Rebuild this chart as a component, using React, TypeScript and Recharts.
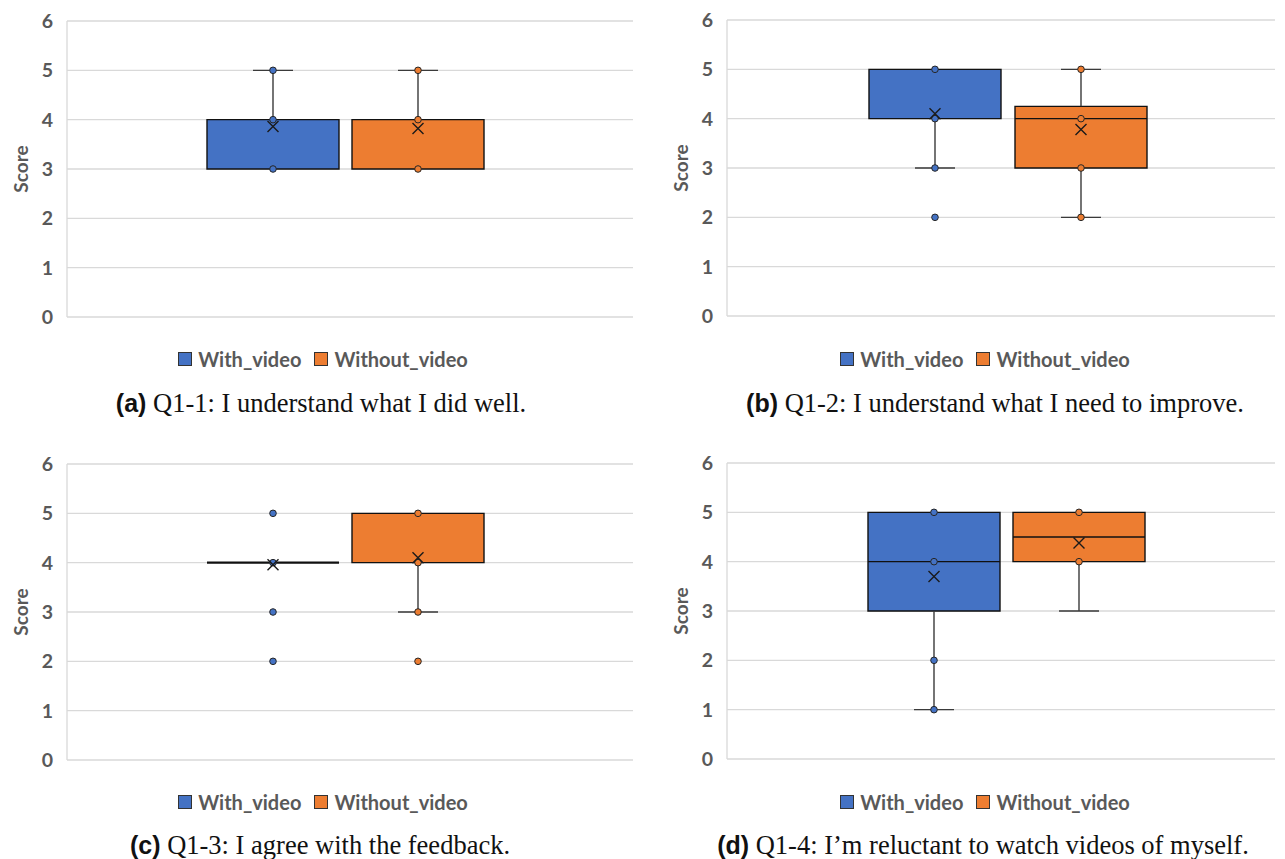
import React from "react";
import { ComposedChart, XAxis, YAxis, CartesianGrid, Scatter, ReferenceArea, ReferenceLine } from "recharts";

const SERIES = ["With_video", "Without_video"];
const COLORS = ["#4472C4", "#ED7D31"];
const Y_TICKS = [0, 1, 2, 3, 4, 5, 6];

type BoxStats = { low: number; q1: number; median: number; q3: number; high: number; mean: number; points: number[] };

// one entry per series: [With_video, Without_video]
const q1_1: BoxStats[] = [
  { low: 3, q1: 3, median: 4, q3: 4, high: 5, mean: 3.86, points: [3, 4, 5] },
  { low: 3, q1: 3, median: 4, q3: 4, high: 5, mean: 3.82, points: [3, 4, 5] },
];
const q1_2: BoxStats[] = [
  { low: 3, q1: 4, median: 4, q3: 5, high: 5, mean: 4.1, points: [2, 3, 4, 5] },
  { low: 2, q1: 3, median: 4, q3: 4.25, high: 5, mean: 3.78, points: [2, 3, 4, 5] },
];
const q1_3: BoxStats[] = [
  { low: 4, q1: 4, median: 4, q3: 4, high: 4, mean: 3.96, points: [2, 3, 4, 5] },
  { low: 3, q1: 4, median: 5, q3: 5, high: 5, mean: 4.1, points: [2, 3, 4, 5] },
];
const q1_4: BoxStats[] = [
  { low: 1, q1: 3, median: 4, q3: 5, high: 5, mean: 3.7, points: [1, 2, 4, 5] },
  { low: 3, q1: 4, median: 4.5, q3: 5, high: 5, mean: 4.38, points: [4, 5] },
];

const CAPTION_TAGS = ["(a)", "(b)", "(c)", "(d)"];
const CAPTION_TEXTS = [
  "Q1-1: I understand what I did well.",
  "Q1-2: I understand what I need to improve.",
  "Q1-3: I agree with the feedback.",
  "Q1-4: I\u2019m reluctant to watch videos of myself.",
];

const TICK_FONT = "Lato, 'Open Sans', sans-serif";
const GREY_TEXT = "#595959";
const GRID = "#d9d9d9";

type Layout = {
  left: number;
  top: number;
  width: number;
  axisW: number;
  plotTop: number;
  plotBottom: number;
  plotRight: number;
  c0: number;
  c1: number;
  labelX: number;
  legendX: number;
  legendY: number;
  captionX: number;
  captionY: number;
};

const CHART_H = 340;

const MeanMark = (props: any) => {
  const { cx, cy } = props;
  const s = 5.5;
  return (
    <path
      d={`M${cx - s},${cy - s}L${cx + s},${cy + s}M${cx - s},${cy + s}L${cx + s},${cy - s}`}
      stroke="#1a1a1a"
      strokeWidth={1.4}
      fill="none"
    />
  );
};

const dotShape = (color: string) => (props: any) => (
  <circle cx={props.cx} cy={props.cy} r={3.3} fill={color} stroke="#262626" strokeWidth={1} />
);

function Panel({ stats, layout, idx }: { stats: BoxStats[]; layout: Layout; idx: number }) {
  const plotLeft = layout.axisW;
  const unit = layout.c1 - layout.c0;
  const domain: [number, number] = [(plotLeft - layout.c0) / unit, 1 + (layout.plotRight - layout.c1) / unit];
  const half = 66 / unit;
  const cap = 20 / unit;
  const whisker = { stroke: "#3a3a3a", strokeWidth: 1.4 };

  return (
    <div style={{ position: "absolute", left: layout.left, top: layout.top, width: layout.width, height: 440 }}>
      <ComposedChart
        width={layout.width}
        height={CHART_H}
        margin={{ top: layout.plotTop, right: layout.width - layout.plotRight, bottom: CHART_H - layout.plotBottom, left: 0 }}
      >
        <CartesianGrid vertical={false} stroke={GRID} strokeWidth={1.3} />
        <XAxis type="number" dataKey="x" domain={domain} allowDataOverflow hide />
        <YAxis
          type="number"
          dataKey="y"
          domain={[0, 6]}
          ticks={Y_TICKS}
          width={layout.axisW}
          tickLine={false}
          tickMargin={8}
          axisLine={{ stroke: GRID, strokeWidth: 1.3 }}
          tick={{ fill: GREY_TEXT, fontSize: 19.5, fontWeight: 700, fontFamily: TICK_FONT }}
          label={{
            content: (p: any) => {
              const vb = p.viewBox || { y: layout.plotTop, height: layout.plotBottom - layout.plotTop };
              const cy = vb.y + vb.height / 2;
              return (
                <text
                  x={layout.labelX}
                  y={cy}
                  transform={`rotate(-90 ${layout.labelX} ${cy})`}
                  textAnchor="middle"
                  dominantBaseline="central"
                  fill={GREY_TEXT}
                  fontSize={19}
                  fontWeight={700}
                  fontFamily={TICK_FONT}
                >
                  Score
                </text>
              );
            },
          }}
        />
        {stats.map((s, i) =>
          s.q3 > s.q1 ? (
            <ReferenceArea
              key={`box${i}`}
              x1={i - half}
              x2={i + half}
              y1={s.q1}
              y2={s.q3}
              fill={COLORS[i]}
              fillOpacity={1}
              stroke="#111"
              strokeWidth={1.4}
            />
          ) : null
        )}
        {stats.map((s, i) =>
          s.high > s.q3 ? (
            <ReferenceLine key={`wu${i}`} segment={[{ x: i, y: s.q3 }, { x: i, y: s.high }]} {...whisker} />
          ) : null
        )}
        {stats.map((s, i) =>
          s.high > s.q3 ? (
            <ReferenceLine key={`cu${i}`} segment={[{ x: i - cap, y: s.high }, { x: i + cap, y: s.high }]} {...whisker} />
          ) : null
        )}
        {stats.map((s, i) =>
          s.low < s.q1 ? (
            <ReferenceLine key={`wl${i}`} segment={[{ x: i, y: s.low }, { x: i, y: s.q1 }]} {...whisker} />
          ) : null
        )}
        {stats.map((s, i) =>
          s.low < s.q1 ? (
            <ReferenceLine key={`cl${i}`} segment={[{ x: i - cap, y: s.low }, { x: i + cap, y: s.low }]} {...whisker} />
          ) : null
        )}
        {stats.map((s, i) =>
          (s.median > s.q1 && s.median < s.q3) || s.q1 === s.q3 ? (
            <ReferenceLine
              key={`md${i}`}
              segment={[{ x: i - half, y: s.median }, { x: i + half, y: s.median }]}
              stroke="#111"
              strokeWidth={s.q1 === s.q3 ? 2.4 : 1.4}
            />
          ) : null
        )}
        {stats.map((s, i) => (
          <Scatter
            key={`pts${i}`}
            name={SERIES[i]}
            data={s.points.map((y) => ({ x: i, y }))}
            fill={COLORS[i]}
            shape={dotShape(COLORS[i])}
            isAnimationActive={false}
          />
        ))}
        {stats.map((s, i) => (
          <Scatter
            key={`mean${i}`}
            data={[{ x: i, y: s.mean }]}
            shape={MeanMark}
            isAnimationActive={false}
          />
        ))}
      </ComposedChart>
      <div
        style={{
          position: "absolute",
          left: layout.legendX - layout.left - 200,
          top: layout.legendY - layout.top - 13,
          width: 400,
          height: 26,
          display: "flex",
          justifyContent: "center",
          alignItems: "center",
          fontFamily: TICK_FONT,
          fontWeight: 700,
          fontSize: 20,
          color: GREY_TEXT,
        }}
      >
        {SERIES.map((name, i) => (
          <div key={name} style={{ display: "flex", alignItems: "center", marginLeft: i ? 13 : 0 }}>
            <span
              style={{
                width: 12,
                height: 12,
                background: COLORS[i],
                border: "1.5px solid #333",
                marginRight: 6,
                display: "inline-block",
              }}
            />
            <span>{name}</span>
          </div>
        ))}
      </div>
      <div
        style={{
          position: "absolute",
          left: layout.captionX - layout.left - 320,
          top: layout.captionY - layout.top - 16,
          width: 640,
          height: 32,
          textAlign: "center",
          fontSize: 26.5,
          lineHeight: "32px",
          fontFamily: "'Liberation Serif', 'Times New Roman', serif",
          color: "#111",
          whiteSpace: "nowrap",
        }}
      >
        <span style={{ fontFamily: "'Liberation Sans', Arial, sans-serif", fontWeight: 700, fontSize: 25 }}>
          {CAPTION_TAGS[idx]}
        </span>{" "}
        {CAPTION_TEXTS[idx]}
      </div>
    </div>
  );
}

const LAYOUTS: Layout[] = [
  { left: 0, top: 0, width: 640, axisW: 67, plotTop: 21, plotBottom: 317, plotRight: 633, c0: 273, c1: 418, labelX: 20, legendX: 323, legendY: 359, captionX: 321, captionY: 403 },
  { left: 640, top: 0, width: 645, axisW: 87, plotTop: 20, plotBottom: 316, plotRight: 635, c0: 295, c1: 441, labelX: 40, legendX: 985, legendY: 359, captionX: 995, captionY: 403 },
  { left: 0, top: 443, width: 640, axisW: 67, plotTop: 21, plotBottom: 317, plotRight: 633, c0: 273, c1: 418, labelX: 20, legendX: 323, legendY: 802, captionX: 320, captionY: 845 },
  { left: 640, top: 443, width: 645, axisW: 87, plotTop: 20, plotBottom: 316, plotRight: 635, c0: 294, c1: 439, labelX: 40, legendX: 985, legendY: 802, captionX: 983, captionY: 845 },
];

const PANELS = [q1_1, q1_2, q1_3, q1_4];

export default function App() {
  return (
    <div style={{ position: "absolute", left: 0, top: 0, width: 1285, height: 859, background: "#fff", overflow: "hidden" }}>
      {PANELS.map((stats, i) => (
        <Panel key={i} stats={stats} layout={LAYOUTS[i]} idx={i} />
      ))}
    </div>
  );
}
